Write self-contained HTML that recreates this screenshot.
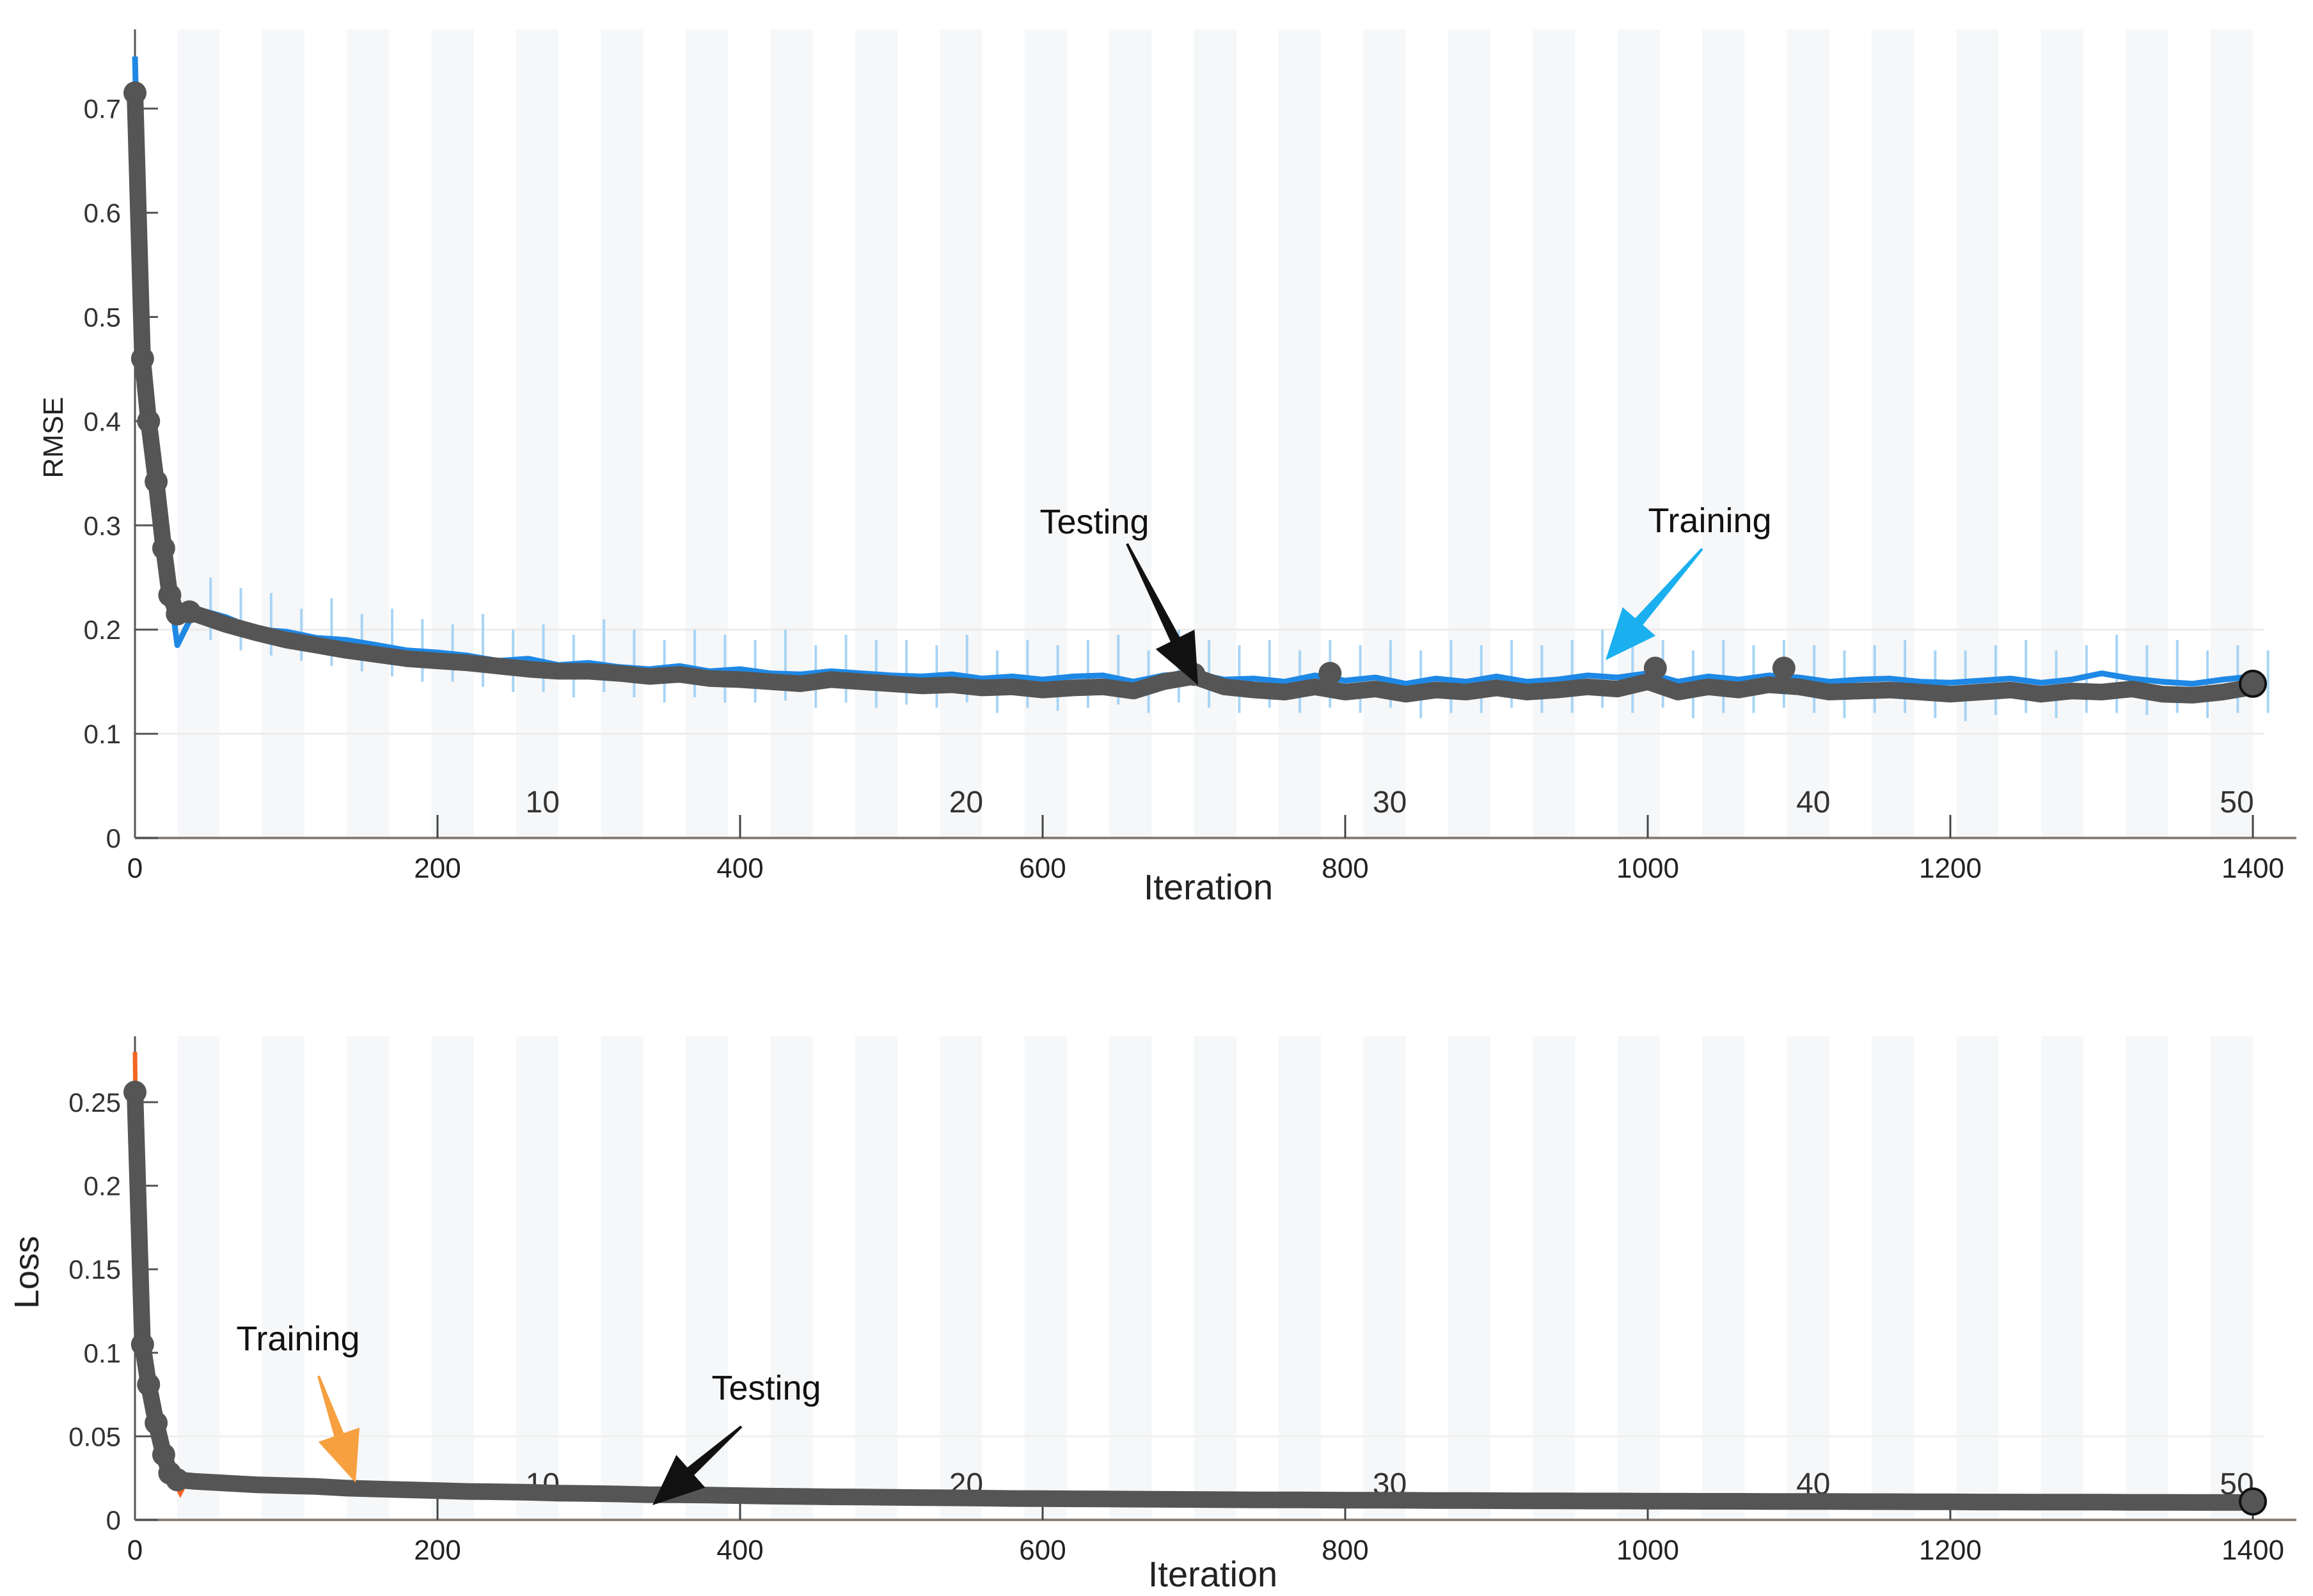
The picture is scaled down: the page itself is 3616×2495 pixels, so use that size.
<!DOCTYPE html>
<html><head><meta charset="utf-8"><style>
html,body{margin:0;padding:0;background:#fff;}
svg{display:block;}
text{font-family:"Liberation Sans",sans-serif;}
</style></head><body>
<svg id="chart" width="3616" height="2495" viewBox="0 0 3616 2495" xmlns="http://www.w3.org/2000/svg">
<g id="bands"></g>
<g id="grid"></g>
<g id="axes"></g>
<g id="series"></g>
<text x="0" y="0" transform="translate(98,684) rotate(-90)" font-size="44" fill="#222" text-anchor="middle">RMSE</text>
<text x="0" y="0" transform="translate(60,1989) rotate(-90)" font-size="54" fill="#222" text-anchor="middle">Loss</text>
<text x="1889" y="1406" font-size="56" fill="#222" text-anchor="middle">Iteration</text>
<text x="1896" y="2480" font-size="56" fill="#222" text-anchor="middle">Iteration</text>
<text x="1711" y="834" font-size="54" fill="#111" text-anchor="middle">Testing</text>
<text x="2673" y="832" font-size="54" fill="#111" text-anchor="middle">Training</text>
<text x="466" y="2111" font-size="54" fill="#111" text-anchor="middle">Training</text>
<text x="1198" y="2188" font-size="54" fill="#111" text-anchor="middle">Testing</text>
<g id="arrows"></g>
</svg>
<script>
// ---- data ----
const xTicks = [0,200,400,600,800,1000,1200,1400];
const epochTicks = [10,20,30,40,50];
const rmseTicks = [0,0.1,0.2,0.3,0.4,0.5,0.6,0.7];
const rmseTickLabels = ["0","0.1","0.2","0.3","0.4","0.5","0.6","0.7"];
const lossTicks = [0,0.05,0.1,0.15,0.2,0.25];
const lossTickLabels = ["0","0.05","0.1","0.15","0.2","0.25"];
const earlyIter = [0,5,9,14,19,23,28];
const lateStart = 40, lateStep = 20;
const rmseTestEarly = [0.715,0.46,0.40,0.342,0.278,0.233,0.215];
const rmseTestLate = [0.215,0.205,0.197,0.19,0.185,0.18,0.176,0.172,0.17,0.168,0.165,0.162,0.16,0.16,0.158,0.155,0.157,0.153,0.152,0.15,0.148,0.152,0.15,0.148,0.146,0.147,0.144,0.145,0.142,0.144,0.145,0.141,0.15,0.155,0.145,0.142,0.14,0.145,0.14,0.143,0.138,0.142,0.14,0.144,0.14,0.142,0.145,0.143,0.15,0.14,0.145,0.142,0.147,0.145,0.14,0.141,0.142,0.14,0.138,0.14,0.142,0.138,0.141,0.14,0.143,0.138,0.137,0.14,0.145];
const rmseTrainEarly = [0.75,0.44,0.41,0.35,0.28,0.24,0.185];
const rmseTrainLate = [0.22,0.212,0.2,0.198,0.192,0.19,0.185,0.18,0.178,0.175,0.17,0.172,0.166,0.168,0.164,0.162,0.165,0.16,0.162,0.158,0.157,0.16,0.158,0.156,0.155,0.157,0.153,0.155,0.152,0.155,0.156,0.15,0.156,0.158,0.152,0.153,0.15,0.156,0.151,0.154,0.148,0.153,0.15,0.155,0.15,0.152,0.156,0.154,0.158,0.15,0.155,0.152,0.156,0.154,0.15,0.152,0.153,0.15,0.149,0.151,0.153,0.149,0.152,0.158,0.153,0.15,0.148,0.152,0.155];
const rmseSpikeHigh = [0.25,0.24,0.235,0.22,0.23,0.215,0.22,0.21,0.205,0.215,0.2,0.205,0.195,0.21,0.2,0.19,0.2,0.195,0.19,0.2,0.185,0.195,0.19,0.19,0.185,0.195,0.18,0.19,0.185,0.19,0.195,0.18,0.2,0.19,0.185,0.19,0.18,0.19,0.185,0.19,0.18,0.19,0.185,0.19,0.185,0.19,0.2,0.185,0.19,0.18,0.19,0.185,0.19,0.185,0.18,0.185,0.19,0.18,0.18,0.185,0.19,0.18,0.185,0.195,0.185,0.19,0.18,0.185,0.18];
const rmseSpikeLow = [0.19,0.18,0.175,0.17,0.165,0.16,0.155,0.15,0.15,0.145,0.14,0.14,0.135,0.14,0.135,0.13,0.135,0.13,0.13,0.132,0.125,0.13,0.125,0.128,0.125,0.13,0.12,0.125,0.122,0.125,0.128,0.12,0.13,0.125,0.12,0.125,0.12,0.125,0.12,0.125,0.115,0.12,0.12,0.125,0.12,0.12,0.125,0.12,0.125,0.115,0.12,0.12,0.125,0.12,0.115,0.12,0.12,0.115,0.112,0.118,0.12,0.115,0.12,0.12,0.118,0.12,0.115,0.12,0.12];
const rmseMarkerIter = [0,5,9,14,19,23,28,36,700,790,1005,1090];
const rmseMarkerVal = [0.715,0.46,0.40,0.342,0.278,0.233,0.215,0.217,0.157,0.158,0.163,0.163];
const rmseEnd = [1400,0.148];
const lossTestEarly = [0.256,0.105,0.081,0.058,0.039,0.028,0.024];
const lossTestLate = [0.023,0.022,0.021,0.0205,0.02,0.019,0.0185,0.018,0.0175,0.017,0.0168,0.0165,0.016,0.0158,0.0155,0.015,0.015,0.0148,0.0145,0.0142,0.014,0.0138,0.0137,0.0135,0.0133,0.0132,0.013,0.0128,0.0127,0.0126,0.0125,0.0124,0.0123,0.0122,0.0121,0.012,0.012,0.0119,0.0118,0.0118,0.0117,0.0116,0.0116,0.0115,0.0114,0.0114,0.0113,0.0113,0.0112,0.0112,0.0111,0.0111,0.011,0.011,0.011,0.0109,0.0109,0.0108,0.0108,0.0107,0.0107,0.0106,0.0106,0.0106,0.0105,0.0105,0.0104,0.0104,0.0104];
const lossTrainIter = [0,1,5,9,14,19,23,30,35,45];
const lossTrainVal = [0.28,0.2,0.095,0.09,0.06,0.04,0.028,0.016,0.025,0.023];
const lossEnd = [1400,0.011];

// ---- scales ----
const X0 = 211, XS = 2.365;
const x = i => X0 + i*XS;
const T0 = 1310, TS = 1629;
const yT = v => T0 - v*TS;
const B0 = 2376, BS = 2612;
const yB = v => B0 - v*BS;
const NS = "http://www.w3.org/2000/svg";
function mk(tag, attrs, parent){const e=document.createElementNS(NS,tag);for(const k in attrs)e.setAttribute(k,attrs[k]);parent.appendChild(e);return e;}
const bands=document.getElementById('bands'), grid=document.getElementById('grid'), axes=document.getElementById('axes'), series=document.getElementById('series'), arrows=document.getElementById('arrows');

[[46,1310],[1620,2376]].forEach((r,pi)=>{
  for(let k=1;k<50;k+=2){
    const b=mk('rect',{x:x(28*k),y:r[0],width:x(28*(k+1))-x(28*k),height:r[1]-r[0],fill:'#f6f7f8'},bands);
    
    
  }
});
[0.1,0.2].forEach(v=>{const g=mk('line',{x1:X0,x2:3540,y1:yT(v),y2:yT(v),stroke:'#ececec','stroke-width':3},grid);

});
[0.05].forEach(v=>{const g=mk('line',{x1:X0,x2:3540,y1:yB(v),y2:yB(v),stroke:'#f0f0f0','stroke-width':3},grid);

});

function drawAxes(base, top, yfun, ticks, labels, fs, pre){
  let a=mk('line',{x1:X0,x2:X0,y1:top,y2:base,stroke:'#555','stroke-width':3},axes);
  
  
  a=mk('line',{x1:X0,x2:3590,y1:base,y2:base,stroke:'#8a8078','stroke-width':4},axes);
  
  
  ticks.forEach((v,i)=>{
    const t=mk('line',{x1:X0,x2:X0+36,y1:yfun(v),y2:yfun(v),stroke:'#555','stroke-width':3},axes);
    
    
    const l=mk('text',{x:X0-22,y:yfun(v)+15,'font-size':fs,fill:'#333','text-anchor':'end'},axes);
    l.textContent=labels[i];
    
    
  });
  xTicks.forEach(v=>{
    if(v>0){const t=mk('line',{x1:x(v),x2:x(v),y1:base,y2:base-36,stroke:'#444','stroke-width':3},axes);
    
    }
    const l=mk('text',{x:x(v),y:base+62,'font-size':44,fill:'#222','text-anchor':'middle'},axes);
    l.textContent=String(v);
    
    
  });
  epochTicks.forEach(e=>{
    const l=mk('text',{x:x(28*e)-25,y:base-40,'font-size':48,fill:'#333','text-anchor':'middle'},axes);
    l.textContent=String(e);
    
    
  });
}
drawAxes(T0,46,yT,rmseTicks,rmseTickLabels,42,'rmse');
drawAxes(B0,1620,yB,lossTicks,lossTickLabels,42,'loss');

function pts(early, late, yf){
  const p=[];
  early.forEach((v,i)=>p.push([x(earlyIter[i]),yf(v)]));
  late.forEach((v,i)=>p.push([x(lateStart+i*lateStep),yf(v)]));
  return p;
}
function path(p){return p.map((q,i)=>(i?'L':'M')+q[0].toFixed(1)+' '+q[1].toFixed(1)).join(' ');}

rmseSpikeHigh.forEach((v,i)=>{
  const xi=x(lateStart+i*lateStep+10);
  const s=mk('line',{x1:xi,x2:xi,y1:yT(v),y2:yT(rmseSpikeLow[i]),stroke:'#a8d4f5','stroke-width':4},series);
  
  
});
let e=mk('path',{d:path(pts(rmseTrainEarly,rmseTrainLate,yT)),fill:'none',stroke:'#1e88e5','stroke-width':9,'stroke-linejoin':'round'},series);


e=mk('path',{d:path(pts(rmseTestEarly,rmseTestLate,yT)),fill:'none',stroke:'#555555','stroke-width':26,'stroke-linejoin':'round','stroke-linecap':'round'},series);


rmseMarkerIter.forEach((it,i)=>{
  const c=mk('circle',{cx:x(it),cy:yT(rmseMarkerVal[i]),r:18,fill:'#555'},series);
  
  
});
e=mk('circle',{cx:x(rmseEnd[0]),cy:yT(rmseEnd[1]),r:20,fill:'#555',stroke:'#111','stroke-width':4},series);



e=mk('path',{d:path(lossTrainIter.map((it,i)=>[x(it),yB(lossTrainVal[i])])),fill:'none',stroke:'#f26522','stroke-width':7},series);


e=mk('path',{d:path(pts(lossTestEarly,lossTestLate,yB)),fill:'none',stroke:'#555555','stroke-width':26,'stroke-linejoin':'round','stroke-linecap':'round'},series);


earlyIter.forEach((it,i)=>{
  const c=mk('circle',{cx:x(it),cy:yB(lossTestEarly[i]),r:18,fill:'#555'},series);
  
  
});
e=mk('circle',{cx:x(lossEnd[0]),cy:yB(lossEnd[1]),r:20,fill:'#555',stroke:'#111','stroke-width':4},series);



function arrow(x1,y1,x2,y2,color,name){
  const dx=x2-x1, dy=y2-y1, L=Math.hypot(dx,dy), ux=dx/L, uy=dy/L, nx=-uy, ny=ux;
  const hl=Math.min(80,L*0.45), hw=34, sw=8;
  const bx=x2-ux*hl, by=y2-uy*hl;
  const d=`M${x1+nx*2} ${y1+ny*2} L${bx+nx*sw} ${by+ny*sw} L${bx+nx*hw} ${by+ny*hw} L${x2} ${y2} L${bx-nx*hw} ${by-ny*hw} L${bx-nx*sw} ${by-ny*sw} L${x1-nx*2} ${y1-ny*2} Z`;
  const p=mk('path',{d:d,fill:color},arrows);
  
  
}
arrow(1762,850,1873,1071,'#111','rmse-testing-arrow');
arrow(2661,858,2510,1032,'#1ab0f0','rmse-training-arrow');
arrow(498,2151,556,2318,'#f7a040','loss-training-arrow');
arrow(1159,2230,1020,2353,'#111','loss-testing-arrow');
</script>
</body></html>
